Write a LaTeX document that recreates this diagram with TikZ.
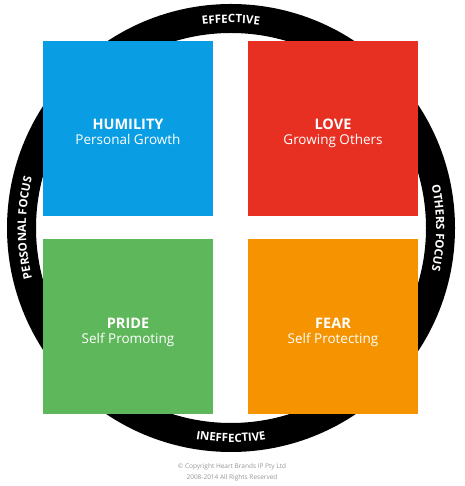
\documentclass[tikz,border=0pt]{standalone}
\usepackage{fontspec}
\setmainfont{Open Sans}
\usetikzlibrary{decorations.text}
\definecolor{hblue}{RGB}{9,157,228}
\definecolor{hred}{RGB}{232,48,34}
\definecolor{hgreen}{RGB}{94,183,90}
\definecolor{horange}{RGB}{245,148,0}
\definecolor{hgray}{RGB}{150,150,150}
\tikzset{
  quad/.style={rectangle, minimum width=170pt, minimum height=175pt, inner sep=0pt, draw=none},
  title/.style={anchor=base, text=white, font=\fontsize{14.5}{14.5}\selectfont\bfseries, inner sep=0pt},
  sub/.style={anchor=base, text=white, font=\fontsize{13.5}{13.5}\selectfont, inner sep=0pt},
  ringtext/.style={decorate, decoration={text along path, text align=center, text color=white}},
  copy/.style={text=hgray, font=\fontsize{6.5}{6.5}\selectfont, inner sep=0pt}
}
\begin{document}
\begin{tikzpicture}[x=1pt,y=1pt]
\useasboundingbox (0,0) rectangle (464,486);
\coordinate (c) at (231,258);
\draw[line width=29pt] (c) circle[radius=209.5];
% quadrants
\node[quad, fill=hblue] (hum) at (128,357.5) {};
\node[quad, fill=hred] (love) at (333,357.5) {};
\node[quad, fill=hgreen] (pride) at (128,159.5) {};
\node[quad, fill=horange] (fear) at (333,159.5) {};
% labels
\node[title] (humT) at (128,356) {HUMILITY};
\node[sub] (humS) at (128,341) {Personal Growth};
\node[title] (loveT) at (333,356) {LOVE};
\node[sub] (loveS) at (333,341) {Growing Others};
\node[title] (prideT) at (128,157) {PRIDE};
\node[sub] (prideS) at (128,142) {Self Promoting};
\node[title] (fearT) at (333,157) {FEAR};
\node[sub] (fearS) at (333,142) {Self Protecting};
% ring texts
\path[shift={(c)}, ringtext, decoration={text={|\fontsize{11.5}{11.5}\selectfont\bfseries|EFFECTIVE}}] (150:205) arc[start angle=150, end angle=30, radius=205];
\path[shift={(c)}, ringtext, decoration={text={|\fontsize{11.5}{11.5}\selectfont\bfseries|INEFFECTIVE}}] (200:214) arc[start angle=200, end angle=340, radius=214];
\path[shift={(c)}, ringtext, decoration={text={|\fontsize{11.5}{11.5}\selectfont\bfseries|PERSONAL FOCUS}}] (250:205) arc[start angle=250, end angle=110, radius=205];
\path[shift={(c)}, ringtext, decoration={text={|\fontsize{11.5}{11.5}\selectfont\bfseries|OTHERS FOCUS}}] (70:205) arc[start angle=70, end angle=-70, radius=205];
% copyright
\node[copy] (cp1) at (232,19) {© Copyright Heart Brands IP Pty Ltd};
\node[copy] (cp2) at (232,8) {2008-2014 All Rights Reserved};
\end{tikzpicture}
\end{document}
